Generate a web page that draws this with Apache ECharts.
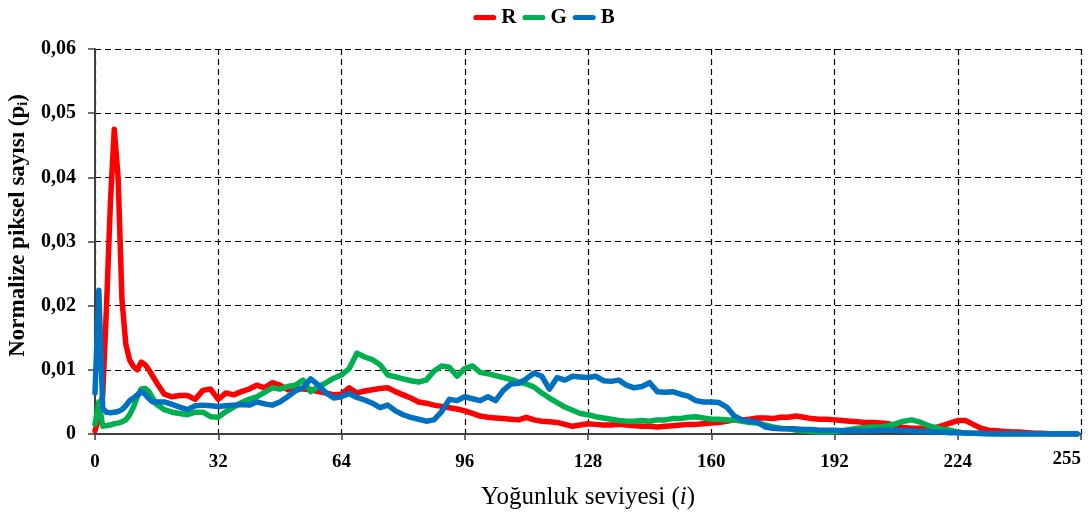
<!DOCTYPE html>
<html><head><meta charset="utf-8">
<script src="https://cdn.jsdelivr.net/npm/echarts@6/dist/echarts.min.js"></script>
<style>html,body{margin:0;padding:0;background:#fff}#c{width:1088px;height:515px}</style>
</head><body><div id="c"></div>
<script>
var levels = [0,1,2,3,4,5,6,7,8,9,10,11,12,13,14,15,16,18,20,22,24,26,28,30,32,34,36,38,40,42,44,46,48,50,52,54,56,58,60,62,64,66,68,70,72,74,76,78,80,82,84,86,88,90,92,94,96,98,100,102,104,106,108,110,112,114,116,118,120,122,124,126,128,130,132,134,136,138,140,142,144,146,148,150,152,154,156,158,160,162,164,166,168,170,172,174,176,178,180,182,184,186,188,190,192,194,196,198,200,202,204,206,208,210,212,214,216,218,220,222,224,226,228,230,232,234,236,238,240,242,244,246,248,250,252,254,255];

var redValues = [0.0005,0.0025,0.006,0.020,0.036,0.0475,0.040,0.021,0.014,0.0115,0.0105,0.010,0.0112,0.0108,0.010,0.009,0.008,0.0062,0.0058,0.006,0.006,0.0054,0.0068,0.007,0.0054,0.0064,0.0061,0.0066,0.007,0.0076,0.0072,0.008,0.0076,0.0069,0.0072,0.007,0.0069,0.0066,0.0064,0.0061,0.0062,0.0072,0.0064,0.0067,0.0069,0.0071,0.0072,0.0066,0.0061,0.0056,0.005,0.0048,0.0045,0.0043,0.0041,0.0039,0.0036,0.0032,0.0028,0.0026,0.0025,0.0024,0.0023,0.0022,0.0026,0.0022,0.002,0.0019,0.0018,0.0015,0.0012,0.0014,0.0016,0.0015,0.0014,0.0014,0.0015,0.0014,0.0013,0.0012,0.0012,0.0011,0.0012,0.0013,0.0014,0.0015,0.0015,0.0016,0.0017,0.0018,0.002,0.0022,0.0022,0.0023,0.0025,0.0025,0.0024,0.0026,0.0026,0.0028,0.0026,0.0024,0.0023,0.0023,0.0022,0.0021,0.002,0.0019,0.0018,0.0018,0.0017,0.0016,0.0013,0.001,0.0009,0.0009,0.0009,0.001,0.0013,0.0017,0.0021,0.0021,0.0015,0.0009,0.0006,0.0005,0.0004,0.0003,0.0003,0.0002,0.0001,0.0001,0.00005,0,0,0,0];

var greenValues = [0.0015,0.005,0.0012,0.0013,0.0014,0.0016,0.0017,0.0019,0.0022,0.003,0.0042,0.0058,0.007,0.0071,0.0066,0.0056,0.0046,0.0038,0.0034,0.0032,0.003,0.0034,0.0034,0.0027,0.0026,0.0035,0.0042,0.0049,0.0054,0.0058,0.0065,0.0072,0.007,0.0074,0.0076,0.0084,0.0066,0.0074,0.008,0.0087,0.0092,0.0102,0.0126,0.012,0.0116,0.0108,0.0092,0.0089,0.0086,0.0083,0.0081,0.0084,0.0098,0.0106,0.0104,0.009,0.0102,0.0106,0.0096,0.0094,0.0091,0.0088,0.0085,0.0081,0.0078,0.0073,0.0064,0.0056,0.0049,0.0042,0.0037,0.0032,0.003,0.0027,0.0025,0.0023,0.0021,0.002,0.002,0.0021,0.002,0.0022,0.0022,0.0024,0.0024,0.0026,0.0027,0.0025,0.0023,0.0023,0.0022,0.0022,0.002,0.0018,0.0017,0.0014,0.0011,0.0009,0.0008,0.0006,0.0005,0.0004,0.0003,0.0003,0.0003,0.0005,0.0007,0.0009,0.001,0.0011,0.0011,0.0013,0.0016,0.002,0.0022,0.0019,0.0014,0.001,0.0008,0.0006,0.0003,0.00015,0.0001,0.00005,0,0,0,0,0,0,0,0,0,0,0,0,0];

var blueValues = [0.0064,0.0224,0.004,0.0034,0.0033,0.0034,0.0035,0.0038,0.0044,0.0052,0.0056,0.0061,0.0066,0.0062,0.0055,0.005,0.005,0.005,0.0046,0.0042,0.0038,0.0044,0.0045,0.0044,0.0043,0.0044,0.0045,0.0046,0.0045,0.005,0.0047,0.0045,0.005,0.0058,0.0067,0.0072,0.0086,0.0076,0.0064,0.0056,0.0058,0.0063,0.0057,0.0053,0.0048,0.0041,0.0045,0.0036,0.003,0.0026,0.0023,0.002,0.0022,0.0035,0.0054,0.0052,0.0058,0.0055,0.0052,0.0058,0.0052,0.0068,0.0078,0.0079,0.0086,0.0095,0.009,0.007,0.0088,0.0084,0.009,0.0089,0.0088,0.009,0.0083,0.0082,0.0084,0.0076,0.0072,0.0074,0.008,0.0066,0.0065,0.0066,0.0062,0.0059,0.0052,0.005,0.005,0.0049,0.0042,0.0028,0.0022,0.002,0.0018,0.0011,0.0009,0.0008,0.0008,0.0008,0.0007,0.0007,0.0006,0.0006,0.0006,0.0005,0.0005,0.0005,0.0005,0.0005,0.0006,0.0006,0.0006,0.0005,0.0005,0.0004,0.0004,0.0003,0.0003,0.0002,0.0002,0.00015,0.0001,0.0001,0.00005,0,0,0,0,0,0,0,0,0,0,0,0];

var seriesNames = ['R','G','B'];
var seriesColors = ['#FF0000','#00B050','#0070C0'];
var xTicks = [0,32,64,96,128,160,192,224,255];

function pairs(vals){ return levels.map(function(l,i){ return [l, vals[i]]; }); }
var allValues = [redValues, greenValues, blueValues];

var serif = '"Liberation Serif", "DejaVu Serif", serif';
var chart = echarts.init(document.getElementById('c'), null, {renderer:'canvas'});
var capsule = 'path://M2.5,0H19.5A2.5,2.5,0,0,1,19.5,5H2.5A2.5,2.5,0,0,1,2.5,0Z';

chart.setOption({
  animation:false,
  backgroundColor:'#fff',
  legend:{
    top:2, left:'center',
    itemWidth:23, itemHeight:6, itemGap:6,
    icon:capsule,
    textStyle:{fontFamily:serif, fontWeight:'bold', fontSize:21, color:'#000'},
    data:seriesNames
  },
  grid:{left:95, right:7, top:49, bottom:81, containLabel:false, outerBoundsMode:'none'},
  xAxis:{
    type:'value', min:0, max:256, interval:32,
    name:'Yoğunluk seviyesi ({it|i})', nameLocation:'middle', nameGap:51,
    nameTextStyle:{fontFamily:serif, fontSize:25, color:'#000',
      rich:{it:{fontFamily:serif, fontSize:25, fontStyle:'italic', color:'#000'}}},
    axisLine:{show:true, onZero:false, lineStyle:{color:'#404040', width:2}},
    axisTick:{show:true, length:6, lineStyle:{color:'#404040', width:1.5}},
    axisLabel:{margin:19, fontFamily:serif, fontWeight:'bold', fontSize:19, color:'#000',
      alignMaxLabel:'right',
      formatter:function(v){ return v===256 ? '{up|' + xTicks[xTicks.length-1] + '}' : String(v); },
      rich:{up:{fontFamily:serif, fontWeight:'bold', fontSize:19, color:'#000', lineHeight:12}}},
    splitLine:{show:true, lineStyle:{color:'#000', type:[6,4], width:1.2}}
  },
  yAxis:{
    type:'value', min:0, max:0.06, interval:0.01,
    name:'Normalize piksel sayısı (p{sub|i})', nameLocation:'middle', nameGap:60,
    nameTextStyle:{fontFamily:serif, fontWeight:'bold', fontSize:23, color:'#000', padding:[0,0,0,32],
      rich:{sub:{fontFamily:serif, fontWeight:'bold', fontSize:14, color:'#000', verticalAlign:'bottom', padding:[10,0,0,0]}}},
    axisLine:{show:true, lineStyle:{color:'#404040', width:2}},
    axisTick:{show:true, length:7, lineStyle:{color:'#404040', width:1.5}},
    axisLabel:{margin:19, fontFamily:serif, fontWeight:'bold', fontSize:20, color:'#000',
      formatter:function(v){ return v===0 ? '0' : v.toFixed(2).replace('.',','); }},
    splitLine:{show:true, lineStyle:{color:'#000', type:[6,4], width:1.2}}
  },
  series: seriesNames.map(function(n,k){
    return {
      name:n, type:'line', data:pairs(allValues[k]),
      showSymbol:false, symbol:'none', clip:true,
      itemStyle:{color:seriesColors[k]},
      lineStyle:{color:seriesColors[k], width:5.5, cap:'round', join:'round'}
    };
  })
});
</script></body></html>
